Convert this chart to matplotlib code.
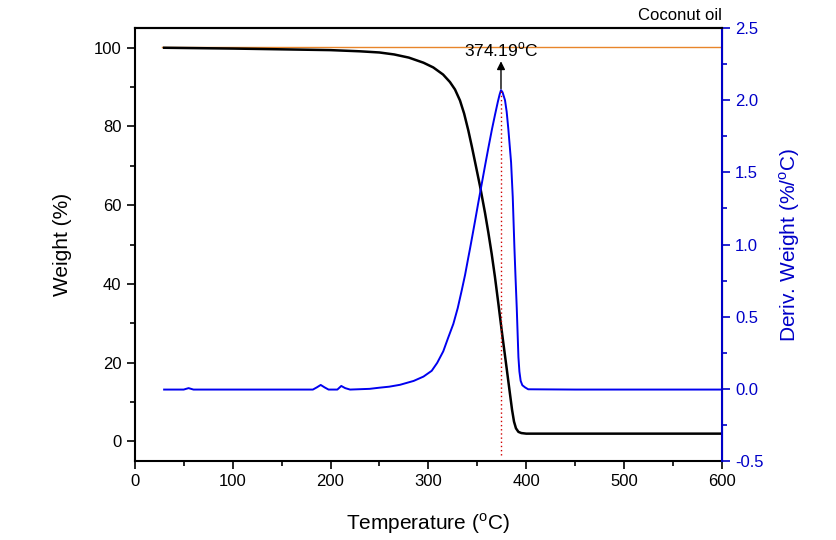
import matplotlib
matplotlib.use("Agg")
import matplotlib.pyplot as plt
from matplotlib.ticker import MultipleLocator

plt.rcParams['font.family'] = ['Liberation Sans', 'DejaVu Sans']
plt.rcParams['mathtext.fontset'] = 'custom'
plt.rcParams['mathtext.rm'] = 'Liberation Sans'

# TGA curve (weight %)
tga_temp = [30, 100, 150, 200, 230, 250, 265, 280, 295, 305, 315, 322,
            327.2, 332.3, 336.5, 340.8, 344.5, 348, 352.8, 357.9, 361.3,
            364.7, 368, 371.5, 375, 380, 383.4, 385.5, 387.5, 389.5, 392,
            395, 400, 500, 600]
tga_weight = [100.0, 99.8, 99.6, 99.4, 99.1, 98.8, 98.3, 97.5, 96.2, 95.0,
              93.2, 91.3, 89.4, 86.6, 83.3, 79.0, 74.8, 70.6, 64.8, 58.0,
              53.0, 47.6, 41.8, 35.0, 28.0, 18.5, 12.0, 8.0, 5.0, 3.3, 2.4,
              2.1, 1.95, 1.95, 1.95]

# DTG curve (deriv. weight %/C)
dtg_temp = [30, 50, 55, 60, 100, 150, 182, 186, 190, 194, 198, 207, 211,
            215, 220, 240, 250, 260, 271, 285, 295, 303.4, 309, 315.2, 320,
            325.5, 330, 334, 337.5, 340.8, 342.5, 345.2, 347.6, 351, 354.5,
            358, 361.3, 365, 368.1, 371, 372.8, 374.19, 375.8, 378.3, 380,
            381.7, 384.5, 386.2, 387.9, 389, 390.3, 391.2, 392, 393, 394.3,
            396, 398.8, 402, 450, 600]
dtg_value = [-0.005, -0.005, 0.005, -0.005, -0.005, -0.005, -0.005, 0.01,
             0.027, 0.01, -0.005, -0.005, 0.02, 0.005, -0.005, 0.0, 0.008,
             0.015, 0.028, 0.055, 0.085, 0.125, 0.18, 0.26, 0.35, 0.45, 0.56,
             0.68, 0.79, 0.91, 0.97, 1.07, 1.16, 1.29, 1.42, 1.55, 1.67, 1.80,
             1.90, 1.99, 2.04, 2.07, 2.055, 2.0, 1.92, 1.80, 1.57, 1.33, 0.98,
             0.78, 0.56, 0.38, 0.22, 0.12, 0.055, 0.025, 0.01, -0.003, -0.005,
             -0.005]

peak_temp = 374.19
peak_dtg = 2.07
ref_weight = 100.2
sample_name = 'Coconut oil'

blue_axis = '#0000C8'

fig = plt.figure(figsize=(8.37, 5.4), dpi=100)
ax = fig.add_axes([0.161, 0.1463, 0.7016, 0.8017])
ax2 = ax.twinx()

ax.plot([28, 600], [ref_weight, ref_weight], color='#E8852A', lw=1.0, zorder=2)
ax.plot(tga_temp, tga_weight, color='black', lw=1.8, zorder=3,
        solid_joinstyle='round')
ax2.plot(dtg_temp, dtg_value, color='#0000F0', lw=1.4,
         solid_joinstyle='round')

# peak marker
ax2.plot([peak_temp, peak_temp], [-0.46, peak_dtg], color='#D00000',
         lw=1.0, ls=(0, (1, 2)))
ax2.annotate('', xy=(peak_temp, 2.27), xytext=(peak_temp, peak_dtg + 0.01),
             arrowprops=dict(arrowstyle='-|>', color='black', lw=1.0,
                             mutation_scale=12, shrinkA=0, shrinkB=0))
ax2.text(peak_temp, 2.345, r'374.19$^{\rm o}$C', ha='center', va='center',
         fontsize=12.5)

ax.set_xlim(0, 600)
ax.set_ylim(-5, 105)
ax2.set_ylim(-0.5, 2.5)

ax.xaxis.set_major_locator(MultipleLocator(100))
ax.xaxis.set_minor_locator(MultipleLocator(50))
ax.yaxis.set_major_locator(MultipleLocator(20))
ax.yaxis.set_minor_locator(MultipleLocator(10))
ax2.yaxis.set_major_locator(MultipleLocator(0.5))
ax2.yaxis.set_minor_locator(MultipleLocator(0.25))
ax2.yaxis.set_major_formatter(plt.FormatStrFormatter('%.1f'))

ax.tick_params(which='major', direction='out', length=6, width=1.2,
               labelsize=12)
ax.tick_params(which='minor', direction='out', length=3.5, width=1.2)
ax.tick_params(top=False, right=False)
ax2.tick_params(which='major', direction='out', length=6, width=1.2,
                labelsize=12, colors=blue_axis)
ax2.tick_params(which='minor', direction='out', length=3.5, width=1.2,
                colors=blue_axis)

for s in ['left', 'bottom', 'top']:
    ax.spines[s].set_linewidth(1.5)
ax2.spines['right'].set_color(blue_axis)
ax2.spines['right'].set_linewidth(1.5)
ax2.spines['left'].set_visible(False)
ax2.spines['bottom'].set_visible(False)
ax2.spines['top'].set_linewidth(1.5)

ax.set_xlabel(r'Temperature ($^{\rm o}$C)', fontsize=15, labelpad=16)
ax.set_ylabel('Weight (%)', fontsize=15, labelpad=16)
ax2.set_ylabel(r'Deriv. Weight (%/$^{\rm o}$C)', fontsize=15,
               color=blue_axis, labelpad=10)

ax.text(1.0, 1.012, sample_name, transform=ax.transAxes, ha='right',
        va='bottom', fontsize=12)

fig.savefig('out.png', dpi=100)
